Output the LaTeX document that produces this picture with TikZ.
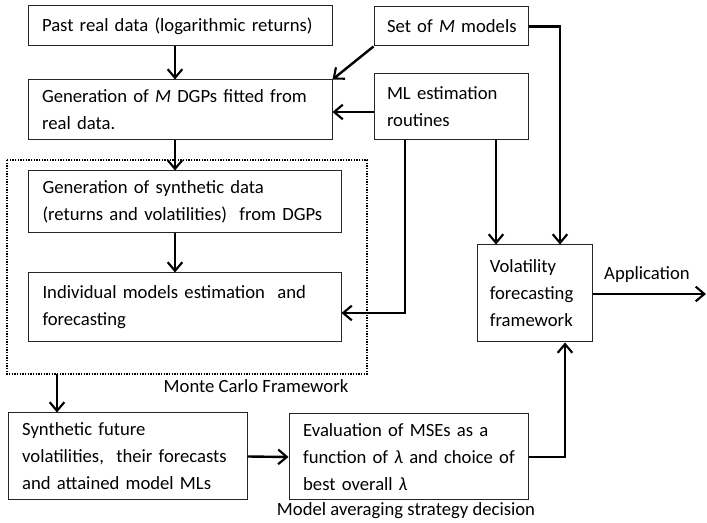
\documentclass[tikz,border=0pt]{standalone}
\usepackage{fontspec}
\setmainfont{Carlito}
\usetikzlibrary{arrows.meta,calc}
\hbadness=10000 \hfuzz=100pt
\begin{document}
\begin{tikzpicture}[x=0.75pt,y=-0.75pt,
  box/.style={draw=black!85,line width=0.75pt,inner xsep=0pt,inner ysep=2pt,
    align=left,font=\fontsize{14}{20.2}\selectfont},
  flow/.style={line width=1.8pt,-{Straight Barb[length=6.5pt,width=11pt,line width=1.6pt]}},
  lbl/.style={font=\fontsize{14}{16}\selectfont,inner sep=0pt}]
\useasboundingbox (0,0) rectangle (707,523);

% main boxes (sizes in pt, text inset 14px on each side; lines kept unbroken)
\node[box,minimum width=228pt,minimum height=30pt,text width=207pt] (past) at (180,26)
  {\mbox{Past real data (logarithmic returns)}};
\node[box,minimum width=228pt,minimum height=45pt,text width=207pt] (dgp) at (180,110)
  {\mbox{Generation of \textit{M} DGPs fitted from}\\\mbox{real data.}};
\node[box,minimum width=115.5pt,minimum height=29.25pt,text width=96pt] (models) at (451,26.5)
  {\mbox{Set of \textit{M} models}};
\node[box,minimum width=115.5pt,minimum height=49.5pt,text width=96pt] (ml) at (451,107)
  {\mbox{ML estimation}\\\mbox{routines}};
\node[box,minimum width=234.75pt,minimum height=46.5pt,text width=213pt] (synth) at (184.5,202)
  {\mbox{Generation of synthetic data}\\\mbox{(returns and volatilities) \ from DGPs}};
\node[box,minimum width=234.75pt,minimum height=51.75pt,text width=213pt] (indiv) at (184.5,307.5)
  {\mbox{Individual models estimation \ and}\\\mbox{forecasting}};
\node[box,minimum width=86.25pt,minimum height=72.75pt,text width=67pt] (vol) at (534.5,293.5)
  {\mbox{Volatility}\\\mbox{forecasting}\\\mbox{framework}};
\node[box,minimum width=179.25pt,minimum height=65.25pt,text width=158pt] (sfut) at (127.5,456.5)
  {\mbox{Synthetic future}\\\mbox{volatilities, \ their forecasts}\\\mbox{and attained model MLs}};
\node[box,minimum width=179.25pt,minimum height=64.5pt,text width=158pt] (eval) at (408.5,457)
  {\mbox{Evaluation of MSEs as a}\\\mbox{function of \textit{λ} and choice of}\\\mbox{best overall \textit{λ}}};

% Monte Carlo frame
\draw[line width=1pt,densely dotted] (7,160) rectangle (367,374);
\coordinate (mcS) at (57,374);

% labels
\node[lbl] (mclabel) at (256,386) {Monte Carlo Framework};
\node[lbl] (mslabel) at (406,511) {Model averaging strategy decision};
\node[lbl] (applabel) at (647,275) {Application};

% helper coordinates for connector columns and rows
\coordinate (spine) at (175,0);
\coordinate (colL) at (405,0);
\coordinate (colM) at (496,0);
\coordinate (colR) at (560,0);
\coordinate (colV) at (565,0);
\coordinate (mlrow) at (0,112);
\coordinate (indrow) at (0,313);
\coordinate (appEnd) at (706,294);

% connectors
\draw[flow] (past.south -| spine) -- (dgp.north -| spine);
\draw[flow] (dgp.south -| spine) -- (synth.north -| spine);
\draw[flow] (synth.south -| spine) -- (indiv.north -| spine);
\draw[flow] (models.south west) -- (dgp.north east);
\draw[flow] (ml.west |- mlrow) -- (dgp.east |- mlrow);
\draw[flow] (models.east) -| (colR |- vol.north);
\draw[flow] (ml.south -| colM) -- (vol.north -| colM);
\draw[flow] (ml.south -| colL) |- (indrow -| indiv.east);
\draw[flow] (mcS) -- (sfut.north -| mcS);
\draw[flow] (sfut.east) -- (eval.west);
\draw[flow] (eval.east) -| (colV |- vol.south);
\draw[flow] (vol.east |- appEnd) -- (appEnd);
\end{tikzpicture}
\end{document}
